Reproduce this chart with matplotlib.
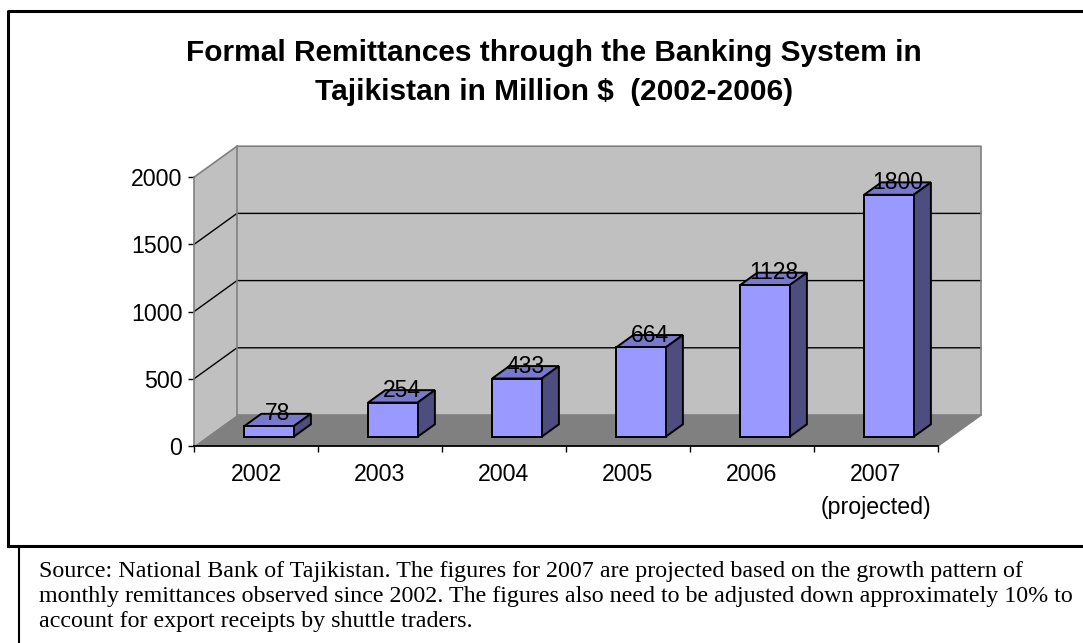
import matplotlib
matplotlib.use("Agg")
import matplotlib.pyplot as plt
from matplotlib.patches import Polygon
from matplotlib.lines import Line2D

plt.rcParams['font.family'] = ['Liberation Sans', 'DejaVu Sans']

# data
years = ['2002', '2003', '2004', '2005', '2006', '2007\n(projected)']
remit = [78, 254, 433, 664, 1128, 1800]
yticks = [0, 500, 1000, 1500, 2000]

title = ("Formal Remittances through the Banking System in\n"
         "Tajikistan in Million $  (2002-2006)")
source_lines = [
    "Source: National Bank of Tajikistan. The figures for 2007 are projected based on the growth pattern of",
    "monthly remittances observed since 2002. The figures also need to be adjusted down approximately 10% to",
    "account for export receipts by shuttle traders.",
]

W, H = 1083, 643
fig = plt.figure(figsize=(W / 100, H / 100), dpi=100)

def fx(px):
    return px / W

def fy(py):
    return 1 - py / H

# front plane of the plot: x 194..938 px, y 446 (0) .. 177 (2000)
ax = fig.add_axes([fx(194), fy(446), fx(938) - fx(194), fy(177.2) - fy(446)])
ax.set_xlim(0, len(years))
ax.set_ylim(0, 2000)
ax.patch.set_visible(False)

# 3d depth offset in data units (43 px right, 31 px up)
DX = 43 / 124
DY = 31 / (268.8 / 2000)
n = len(years)
ymax = 2000

wall = '#C0C0C0'
floor = '#808080'
edge = '#808080'

# walls and floor
ax.add_patch(Polygon([(0, 0), (DX, DY), (DX, ymax + DY), (0, ymax)],
                     closed=True, fc=wall, ec='none', zorder=0, clip_on=False))
ax.add_patch(Polygon([(DX, DY), (n + DX, DY), (n + DX, ymax + DY), (DX, ymax + DY)],
                     closed=True, fc=wall, ec='none', zorder=0, clip_on=False))
ax.add_patch(Polygon([(0, 0), (n, 0), (n + DX, DY), (DX, DY)],
                     closed=True, fc=floor, ec='none', zorder=0, clip_on=False))

# gridlines across the back wall and the side wall
for t in yticks[1:-1]:
    ax.plot([0, DX, n + DX], [t, t + DY, t + DY], color='black', lw=1,
            zorder=1, clip_on=False)

# wall edges
ax.plot([0, DX, n + DX, n + DX], [ymax, ymax + DY, ymax + DY, DY],
        color=edge, lw=1.2, zorder=1, clip_on=False)
ax.plot([DX, DX], [DY, ymax + DY], color=edge, lw=1.2, zorder=1, clip_on=False)
ax.plot([DX, n + DX, n], [DY, DY, 0], color=edge, lw=1.2, zorder=1, clip_on=False)

# columns: front faces from ax.bar, tops and sides as polygons
d0, d1 = 0.3, 0.7
bw = 0.4
xs = [i + 0.5 + d0 * DX for i in range(n)]
ax.bar(xs, remit, width=bw, bottom=d0 * DY, color='#9999FF',
       edgecolor='black', linewidth=1.4, zorder=4, clip_on=False)
ddx = (d1 - d0) * DX
ddy = (d1 - d0) * DY
for x, v in zip(xs, remit):
    l, r = x - bw / 2, x + bw / 2
    top = v + d0 * DY
    bot = d0 * DY
    ax.add_patch(Polygon([(l, top), (r, top), (r + ddx, top + ddy), (l + ddx, top + ddy)],
                         closed=True, fc='#7878CC', ec='black', lw=1.4,
                         zorder=3, clip_on=False))
    ax.add_patch(Polygon([(r, bot), (r + ddx, bot + ddy), (r + ddx, top + ddy), (r, top)],
                         closed=True, fc='#4D4D80', ec='black', lw=1.4,
                         zorder=3, clip_on=False))
    ax.text(x + ddx / 2, v + d1 * DY, str(v), ha='center', va='center',
            fontsize=16.5, zorder=6, clip_on=False)

# axes
for s in ['top', 'right']:
    ax.spines[s].set_visible(False)
ax.spines['left'].set_color(edge)
ax.spines['left'].set_linewidth(1.2)
ax.spines['bottom'].set_color('black')
ax.spines['bottom'].set_linewidth(1.3)
ax.spines['left'].set_zorder(2)
ax.spines['bottom'].set_zorder(2)

ax.set_yticks(yticks)
ax.set_yticklabels([str(t) for t in yticks])
ax.tick_params(axis='y', length=6 * 0.72, width=1, color='black',
               pad=4, labelsize=16.7)

ax.set_xticks(range(n + 1))
ax.set_xticklabels([])
ax.set_xticks([i + 0.5 for i in range(n)], minor=True)
ax.set_xticklabels(years, minor=True, fontsize=16.7, linespacing=1.6)
ax.tick_params(axis='x', which='major', length=6 * 0.72, width=1, color='black')
ax.tick_params(axis='x', which='minor', length=0, pad=12)

# title
fig.text(fx(554), fy(39), title, ha='center', va='top', fontsize=21.5,
         fontweight='bold', linespacing=1.52)

# chart frame and the note box under it
lw = 2.2
fig.add_artist(Line2D([fx(8), fx(8), fx(1090)], [fy(546), fy(11), fy(11)],
                      color='black', lw=lw, transform=fig.transFigure))
fig.add_artist(Line2D([fx(8), fx(1090)], [fy(546), fy(546)],
                      color='black', lw=lw, transform=fig.transFigure))
fig.add_artist(Line2D([fx(19), fx(19)], [fy(546), fy(650)],
                      color='black', lw=1.5, transform=fig.transFigure))

for k, line in enumerate(source_lines):
    fig.text(fx(39), fy(577 + 25 * k), line, ha='left', va='baseline',
             fontsize=17.3, family=['Liberation Serif', 'DejaVu Serif'])

fig.savefig('out.png', dpi=100)
